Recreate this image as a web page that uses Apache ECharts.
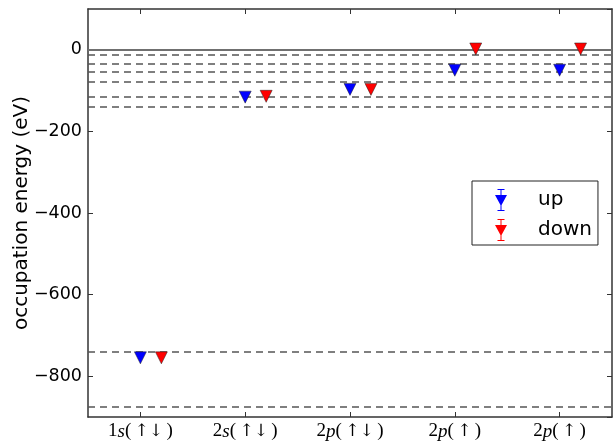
<!DOCTYPE html>
<html>
<head>
<meta charset="utf-8">
<script src="https://cdn.jsdelivr.net/npm/echarts@6/dist/echarts.min.js"></script>
<style>html,body{margin:0;padding:0;background:#fff}#c{width:613px;height:445px}</style>
</head>
<body>
<div id="c"></div>
<script>
const categories = ['1s(↑↓)', '2s(↑↓)', '2p(↑↓)', '2p(↑)', '2p(↑)'];
const upX = [0, 1, 2, 3, 4];
const upValues = [-755, -116, -97, -50, -50];
const downX = [0.2, 1.2, 2.2, 3.2, 4.2];
const downValues = [-755, -114, -97, 2, 2];
const levelLines = [-12, -33, -54, -78, -115, -139, -740, -875];
const zeroLine = [0];
const yMin = -900, yMax = 100;

const triPath = 'path://M-6,-5L6,-5L0,6Z M-0.5,-10.5L0.5,-10.5L0.5,10.5L-0.5,10.5Z M-3.5,-11L3.5,-11L3.5,-10L-3.5,-10Z M-3.5,10L3.5,10L3.5,11L-3.5,11Z';

const chart = echarts.init(document.getElementById('c'));
const frameColor = '#333';
const fmtY = v => (v % 200 !== 0 ? '' : (v < 0 ? '\u2212' + (-v) : String(v)));
const fmtX = v => {
  const open = v.indexOf('('), close = v.indexOf(')');
  return '{n|' + v.slice(0, 1) + '}{i|' + v.slice(1, open) + '}{n|(}{a|\u2009' +
    v.slice(open + 1, close) + '\u2009}{n|)}';
};

chart.setOption({
  animation: false,
  backgroundColor: '#fff',
  grid: { left: 88, right: 1, top: 9, bottom: 28, containLabel: false, outerBoundsMode: 'none' },
  legend: {
    left: 472, top: 181,
    orient: 'vertical',
    backgroundColor: '#fff',
    borderColor: '#222', borderWidth: 1, borderRadius: 0,
    padding: [8, 6, 4, 23],
    itemWidth: 14, itemHeight: 22, itemGap: 8,
    itemStyle: { borderWidth: 0 },
    textStyle: { fontFamily: 'DejaVu Sans', fontSize: 20, color: '#000', padding: [0, 0, 0, 25] },
    data: [
      { name: 'up', icon: triPath, itemStyle: { color: '#0000ff', borderWidth: 0 } },
      { name: 'down', icon: triPath, itemStyle: { color: '#ff0000', borderWidth: 0 } }
    ]
  },
  xAxis: [
    {
      type: 'category', data: categories, position: 'bottom', boundaryGap: true,
      axisLine: { show: true, onZero: false, lineStyle: { color: frameColor, width: 1.5 } },
      axisTick: { show: true, inside: true, alignWithLabel: true, length: 5, lineStyle: { color: frameColor } },
      axisLabel: {
        interval: 0, margin: 5,
        formatter: fmtX,
        rich: {
          n: { fontFamily: 'Liberation Serif', fontSize: 19, color: '#000' },
          i: { fontFamily: 'Liberation Serif', fontStyle: 'italic', fontSize: 19, color: '#000' },
          a: { fontFamily: 'DejaVu Serif', fontSize: 17, color: '#000' }
        }
      },
      splitLine: { show: false }
    },
    {
      type: 'category', data: categories, position: 'top', boundaryGap: true,
      axisLine: { show: true, onZero: false, lineStyle: { color: frameColor, width: 1.5 } },
      axisTick: { show: true, inside: true, alignWithLabel: true, interval: 0, length: 5, lineStyle: { color: frameColor } },
      axisLabel: { show: false },
      splitLine: { show: false }
    },
    { type: 'value', min: -0.5, max: 4.5, show: false, gridIndex: 0,
      axisLine: { onZero: false } }
  ],
  yAxis: [
    {
      type: 'value', min: yMin, max: yMax, splitNumber: 5, position: 'left',
      name: 'occupation energy (eV)', nameLocation: 'middle', nameGap: 56, nameMoveOverlap: false,
      nameTextStyle: { fontFamily: 'DejaVu Sans', fontSize: 20, color: '#000' },
      axisLine: { show: true, onZero: false, lineStyle: { color: frameColor, width: 1.5 } },
      axisTick: { show: true, inside: true, length: 5, lineStyle: { color: frameColor } },
      axisLabel: { showMinLabel: false, showMaxLabel: false, margin: 6, formatter: fmtY,
        padding: [4, 0, 0, 0],
        fontFamily: 'DejaVu Sans', fontSize: 17.5, color: '#000' },
      splitLine: { show: false }
    },
    {
      type: 'value', min: yMin, max: yMax, splitNumber: 5, position: 'right',
      axisLine: { show: true, onZero: false, lineStyle: { color: frameColor, width: 1.5 } },
      axisTick: { show: true, inside: true, length: 5, lineStyle: { color: frameColor } },
      axisLabel: { show: false },
      splitLine: { show: false }
    }
  ],
  series: [
    {
      type: 'scatter', name: 'lines', xAxisIndex: 2, yAxisIndex: 0, data: [],
      markLine: {
        silent: true, symbol: 'none', label: { show: false }, animation: false,
        data: levelLines.map(v => ({ yAxis: v, lineStyle: { type: [7, 5], color: '#555', width: 1.5 } }))
          .concat(zeroLine.map(v => ({ yAxis: v, lineStyle: { type: 'solid', color: '#707070', width: 2 } })))
      }
    },
    {
      type: 'scatter', name: 'up', xAxisIndex: 2, yAxisIndex: 0,
      symbol: 'triangle', symbolRotate: 180, symbolSize: [12, 12],
      itemStyle: { color: '#0000ff', borderColor: '#222', borderWidth: 0.5, opacity: 1 },
      data: upX.map((x, i) => [x, upValues[i]]), z: 5
    },
    {
      type: 'scatter', name: 'down', xAxisIndex: 2, yAxisIndex: 0,
      symbol: 'triangle', symbolRotate: 180, symbolSize: [12, 12],
      itemStyle: { color: '#ff0000', borderColor: '#222', borderWidth: 0.5, opacity: 1 },
      data: downX.map((x, i) => [x, downValues[i]]), z: 5
    }
  ]
});
</script>
</body>
</html>
